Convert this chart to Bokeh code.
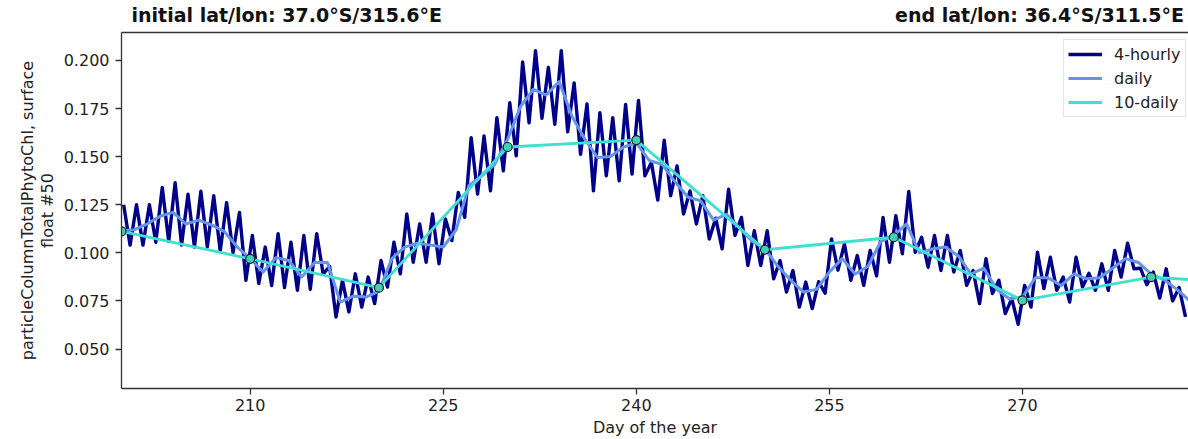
from bokeh.plotting import figure
from bokeh.models import (Range1d, FixedTicker, NumeralTickFormatter, LinearAxis,
                          Legend, LegendItem)
from bokeh.embed import file_html
from bokeh.resources import INLINE

# ---------------- data ----------------
days = list(range(200, 283))
hourly_peak = [
    0.125, 0.125, 0.125, 0.134, 0.1365, 0.1305, 0.132, 0.1297, 0.126, 0.121,
    0.109, 0.103, 0.110, 0.1055, 0.109, 0.110, 0.093, 0.0857, 0.0891, 0.0874,
    0.096, 0.1055, 0.1202, 0.115, 0.1202, 0.1176, 0.1314, 0.1598, 0.1607, 0.1702,
    0.178, 0.1992, 0.2051, 0.1964, 0.2051, 0.1883, 0.1774, 0.1728, 0.1702, 0.1771,
    0.1792, 0.147, 0.1585, 0.1452, 0.1322, 0.1297, 0.118, 0.1331, 0.1184, 0.1115,
    0.1115, 0.096, 0.0908, 0.0848, 0.085, 0.1072, 0.1047, 0.0986, 0.1012, 0.1184,
    0.1193, 0.1319, 0.1081, 0.109, 0.109, 0.1012, 0.0908, 0.0969, 0.0857, 0.0762,
    0.0831, 0.1003, 0.0977, 0.0874, 0.0977, 0.0894, 0.0943, 0.1012, 0.105, 0.092,
    0.090, 0.0917, 0.082,
]
hourly_trough = [
    0.104, 0.104, 0.1055, 0.106, 0.104, 0.103, 0.103, 0.101, 0.100, 0.0857,
    0.084, 0.083, 0.082, 0.0805, 0.081, 0.089, 0.0667, 0.0693, 0.0718, 0.0736,
    0.0822, 0.0891, 0.0951, 0.0951, 0.0943, 0.1064, 0.1184, 0.1305, 0.1322, 0.1426,
    0.1504, 0.1676, 0.1699, 0.1668, 0.1629, 0.1512, 0.1322, 0.140, 0.1374, 0.1409,
    0.140, 0.1274, 0.1297, 0.1202, 0.115, 0.1072, 0.1021, 0.109, 0.0934, 0.0934,
    0.0865, 0.0796, 0.0718, 0.071, 0.079, 0.091, 0.0857, 0.0831, 0.088, 0.0951,
    0.0995, 0.1003, 0.0925, 0.0908, 0.090, 0.0831, 0.0736, 0.0788, 0.0684, 0.0629,
    0.0718, 0.0814, 0.0805, 0.0744, 0.0822, 0.0805, 0.0805, 0.0874, 0.0917, 0.0834,
    0.0765, 0.075, 0.0667,
]
peak_hour = 4      # hour of day of the daily maximum sample
trough_hour = 16   # hour of day of the daily minimum sample

daily_days = list(range(200, 284))
daily_vals = [
    0.1115, 0.112, 0.115, 0.119, 0.121, 0.115, 0.117, 0.1145, 0.111, 0.103,
    0.097, 0.090, 0.0975, 0.096, 0.0875, 0.095, 0.095, 0.0744, 0.0775, 0.077,
    0.080, 0.097, 0.103, 0.105, 0.104, 0.103, 0.112, 0.135, 0.140, 0.146,
    0.159, 0.176, 0.185, 0.182, 0.189, 0.171, 0.159, 0.1495, 0.150, 0.155,
    0.157, 0.148, 0.146, 0.137, 0.129, 0.127, 0.117, 0.120, 0.113, 0.106,
    0.102, 0.093, 0.0857, 0.0796, 0.081, 0.090, 0.097, 0.089, 0.093, 0.106,
    0.109, 0.115, 0.100, 0.102, 0.103, 0.0985, 0.089, 0.092, 0.081, 0.076,
    0.077, 0.087, 0.087, 0.083, 0.089, 0.0865, 0.087, 0.092, 0.097, 0.095,
    0.089, 0.086, 0.081, 0.075,
]

tenday_days = [200, 210, 220, 230, 240, 250, 260, 270, 280]
tenday_vals = [0.1112, 0.0969, 0.0819, 0.155, 0.1586, 0.1016, 0.1081, 0.0753, 0.0874]
tenday_next_day = 290
tenday_next_val = 0.083

x_ticks = [210, 225, 240, 255, 270]
y_ticks = [0.050, 0.075, 0.100, 0.125, 0.150, 0.175, 0.200]

title_left = "initial lat/lon: 37.0°S/315.6°E"
title_right = "end lat/lon: 36.4°S/311.5°E"
x_label = "Day of the year"
y_label = "particleColumnTotalPhytoChl, surface\nfloat #50"

# ---------------- build series ----------------
hx, hy = [], []
for d, pk, tr in zip(days, hourly_peak, hourly_trough):
    hx += [d + peak_hour / 24.0, d + trough_hour / 24.0]
    hy += [pk, tr]

tx = tenday_days + [tenday_next_day]
ty = tenday_vals + [tenday_next_val]

FONT = "DejaVu Sans"
TXT = "#222222"
AX = "#333333"

x0, x1 = 200.0, 282.9
y0, y1 = 0.0295, 0.2145
FRAME_L, FRAME_R = 121, 1188

p = figure(width=1188, height=439, output_backend="svg", toolbar_location=None,
           x_range=Range1d(x0, x1), y_range=Range1d(y0, y1),
           min_border_left=FRAME_L, min_border_right=0, min_border_top=32,
           min_border_bottom=50)
p.background_fill_color = "white"
p.border_fill_color = "white"
p.outline_line_color = None
p.grid.visible = False

r4 = p.line(hx, hy, line_color="#00008B", line_width=3.4, line_join="round")
rd = p.line(daily_days, daily_vals, line_color="#6495ED", line_width=3.0,
            line_join="round")
r10 = p.line(tx, ty, line_color="#40E0D0", line_width=2.8)
p.scatter(tenday_days, tenday_vals, size=9, marker="circle",
          fill_color="#40D0B8", line_color="#1a1a1a", line_width=1.2)

# axes styling
for ax in (p.xaxis[0], p.yaxis[0]):
    ax.axis_line_color = AX
    ax.axis_line_width = 1.3
    ax.major_tick_line_color = AX
    ax.major_tick_line_width = 1.3
    ax.major_tick_out = 6
    ax.major_tick_in = 0
    ax.minor_tick_line_color = None
    ax.major_label_text_font = FONT
    ax.major_label_text_font_size = "16px"
    ax.major_label_text_color = TXT
    ax.axis_label_text_font = FONT
    ax.axis_label_text_font_size = "16px"
    ax.axis_label_text_font_style = "normal"
    ax.axis_label_text_color = TXT

p.xaxis.ticker = FixedTicker(ticks=x_ticks)
p.xaxis.axis_label = x_label
p.xaxis.major_label_standoff = 4
p.xaxis.axis_label_standoff = 4

p.yaxis.ticker = FixedTicker(ticks=y_ticks)
p.yaxis.formatter = NumeralTickFormatter(format="0.000")
p.yaxis.axis_label = y_label
p.yaxis.axis_label_text_line_height = 1.05
p.yaxis.major_label_standoff = 6
p.yaxis.axis_label_standoff = 4

# top spine that also carries the two titles (left- and right-aligned)
px_per_day = (FRAME_R - FRAME_L) / (x1 - x0)
left_w = 310.4      # rendered width of the left title, px
right_w = 288.9     # rendered width of the right title, px
left_center = x0 + (131 - FRAME_L + left_w / 2) / px_per_day
right_center = x0 + (1183.5 - FRAME_L - right_w / 2) / px_per_day
top = LinearAxis(ticker=FixedTicker(ticks=[left_center, right_center]),
                 axis_line_color=AX, axis_line_width=1.3,
                 major_tick_line_color=None, minor_tick_line_color=None,
                 major_tick_out=0, major_tick_in=0, major_label_standoff=7,
                 major_label_overrides={left_center: title_left,
                                        right_center: title_right},
                 major_label_text_font=FONT, major_label_text_font_size="19px",
                 major_label_text_font_style="bold", major_label_text_color="#111111")
p.add_layout(top, "above")

legend = Legend(items=[LegendItem(label="4-hourly", renderers=[r4]),
                       LegendItem(label="daily", renderers=[rd]),
                       LegendItem(label="10-daily", renderers=[r10])],
                location=(942, 271))
legend.label_text_font = FONT
legend.label_text_font_size = "16px"
legend.label_text_color = TXT
legend.glyph_width = 34
legend.glyph_height = 20
legend.label_height = 20
legend.label_standoff = 12
legend.spacing = 4
legend.padding = 4
legend.margin = 0
legend.border_line_color = "#cccccc"
legend.border_line_width = 1
legend.background_fill_alpha = 0.85
p.add_layout(legend, "center")

open("out.html", "w").write(file_html(p, INLINE))
